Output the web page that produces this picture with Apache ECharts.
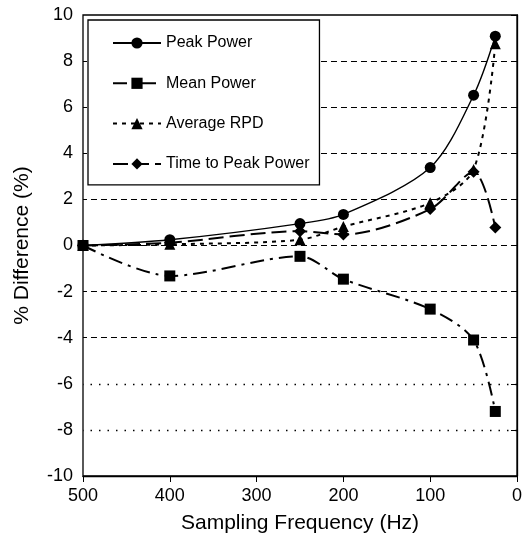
<!DOCTYPE html>
<html><head><meta charset="utf-8">
<script src="https://cdn.jsdelivr.net/npm/echarts@6/dist/echarts.min.js"></script>
<style>html,body{margin:0;padding:0;background:#fff}#c{width:525px;height:541px}</style>
</head><body><div id="c"></div>
<script>
const freq = [500, 400, 250, 200, 100, 50, 25];
const peakPower = [0, 0.25, 0.95, 1.35, 3.38, 6.52, 9.08];
const meanPower = [0, -1.32, -0.47, -1.46, -2.76, -4.1, -7.2];
const averageRPD = [0, 0.05, 0.25, 0.82, 1.85, 3.3, 8.75];
const timeToPeak = [0, 0.12, 0.62, 0.48, 1.58, 3.2, 0.78];
const dashedGrid = [8, 6, 4, 2, 0, -2, -4];
const dottedGrid = [-6, -8];
const font = 'Liberation Sans, Arial, sans-serif';
const pairs = a => freq.map((f, i) => [f, a[i]]);
const chart = echarts.init(document.getElementById('c'), null, {renderer: 'canvas'});
const gridLines = dashedGrid.map(v => ({yAxis: v, lineStyle: {type: [6, 4], color: '#000', width: 1}}))
  .concat(dottedGrid.map(v => ({yAxis: v, lineStyle: {type: [1.5, 7], color: '#000', width: 1.3}})));
chart.setOption({
  animation: false,
  grid: {left: 83, right: 8, top: 15, bottom: 65, show: true, borderColor: '#000', borderWidth: 1.3, backgroundColor: 'transparent'},
  xAxis: {
    type: 'value', inverse: true, min: 0, max: 500, interval: 100,
    name: 'Sampling Frequency (Hz)', nameLocation: 'middle', nameGap: 37,
    nameTextStyle: {fontFamily: font, fontSize: 21, color: '#000'},
    axisLine: {onZero: false, lineStyle: {color: '#000', width: 1.3}},
    axisTick: {show: true, inside: false, length: 6, lineStyle: {color: '#000'}},
    axisLabel: {fontFamily: font, fontSize: 18, color: '#000', margin: 11},
    splitLine: {show: false}
  },
  yAxis: {
    type: 'value', min: -10, max: 10, interval: 2,
    name: '% Difference (%)', nameLocation: 'middle', nameGap: 50, nameRotate: 90,
    nameTextStyle: {fontFamily: font, fontSize: 21, color: '#000'},
    axisLine: {show: true, lineStyle: {color: '#000', width: 1.3}},
    axisTick: {show: true, inside: false, length: 6, lineStyle: {color: '#000'}},
    axisLabel: {fontFamily: font, fontSize: 18, color: '#000', margin: 10},
    splitLine: {show: false}
  },
  legend: {
    z: 20,
    orient: 'vertical', left: 88, top: 20, width: 232,
    padding: [15, 10, 13, 24], itemGap: 24.3, itemWidth: 48, itemHeight: 14,
    backgroundColor: '#fff', borderColor: '#000', borderWidth: 1.3,
    textStyle: {fontFamily: font, fontSize: 16, color: '#000'},
    data: ['Peak Power', 'Mean Power', 'Average RPD', 'Time to Peak Power']
  },
  series: [
    {type: 'line', name: 'grid', data: [], silent: true, z: 1,
     markLine: {silent: true, symbol: 'none', label: {show: false}, animation: false, data: gridLines}},
    {type: 'line', name: 'Peak Power', data: pairs(peakPower), smooth: 0.3,
     symbol: 'circle', symbolSize: 11, itemStyle: {color: '#000'},
     lineStyle: {color: '#000', width: 1.4, type: 'solid'}},
    {type: 'line', name: 'Mean Power', data: pairs(meanPower), smooth: 0.3,
     symbol: 'rect', symbolSize: 11, itemStyle: {color: '#000'},
     lineStyle: {color: '#000', width: 2, type: [14, 6, 3, 6]}},
    {type: 'line', name: 'Average RPD', data: pairs(averageRPD), smooth: 0.3,
     symbol: 'triangle', symbolSize: 11, itemStyle: {color: '#000'},
     lineStyle: {color: '#000', width: 2, type: [4, 5]}},
    {type: 'line', name: 'Time to Peak Power', data: pairs(timeToPeak), smooth: 0.3,
     symbol: 'diamond', symbolSize: 12, itemStyle: {color: '#000'},
     lineStyle: {color: '#000', width: 2, type: [15, 6]}}
  ]
});
</script></body></html>
